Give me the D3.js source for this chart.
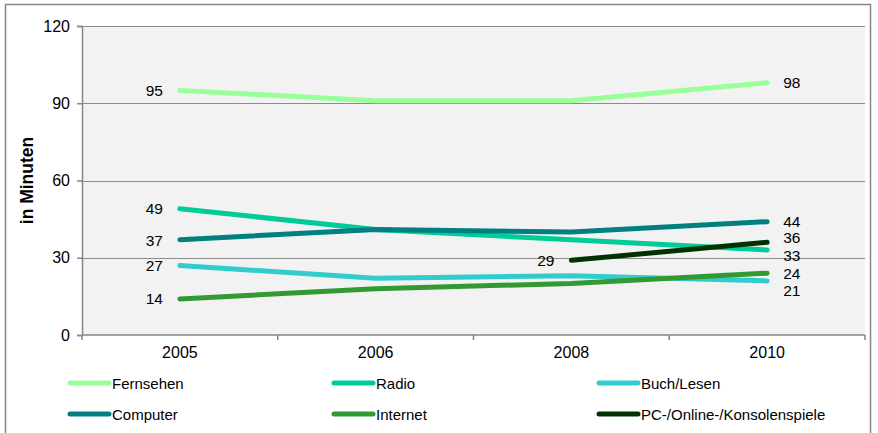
<!DOCTYPE html>
<html>
<head>
<meta charset="utf-8">
<script src="https://cdn.jsdelivr.net/npm/d3@7/dist/d3.min.js"></script>
<style>
  html, body { margin: 0; padding: 0; background: #fff; }
  svg { display: block; font-family: "Liberation Sans", Arial, sans-serif; }
</style>
</head>
<body>
<svg id="chart" width="878" height="433"></svg>
<script>
// Tägliche Nutzungsdauer in Minuten
const years = ["2005", "2006", "2008", "2010"];
const yTicks = [0, 30, 60, 90, 120];

const fernsehen = [95, 91, 91, 98];
const radio     = [49, 41, 37, 33];
const buch      = [27, 22, 23, 21];
const computer  = [37, 41, 40, 44];
const internet  = [14, 18, 20, 24];
const spiele    = [null, null, 29, 36];

const seriesNames = ["Fernsehen", "Radio", "Buch/Lesen", "Computer", "Internet", "PC-/Online-/Konsolenspiele"];
const seriesValues = [fernsehen, radio, buch, computer, internet, spiele];
const seriesColors = ["#99ff99", "#00cc99", "#33cccc", "#008080", "#339933", "#003300"];

// vertical nudges for the end labels so they don't collide
const startNudge = [0, 0, 0, 1, 0, 0];
const endNudge   = [0, 5, 10, 0, 0, -5];

const svg = d3.select("#chart");
const margin = { left: 82, right: 13, top: 26, bottom: 98 };
const W = 878, H = 433;

// outer frame
svg.append("rect")
  .attr("x", 5.5).attr("y", 4.5)
  .attr("width", 865).attr("height", 440)
  .attr("fill", "#fff").attr("stroke", "#868686").attr("stroke-width", 1.5);

const x = d3.scaleBand().domain(years).range([margin.left, W - margin.right]);
const y = d3.scaleLinear().domain([0, 120]).range([H - margin.bottom, margin.top]);

// plot background
svg.append("rect")
  .attr("x", margin.left).attr("y", margin.top)
  .attr("width", W - margin.right - margin.left)
  .attr("height", H - margin.bottom - margin.top)
  .attr("fill", "#f2f2f2");

// grid
svg.append("g").selectAll("line")
  .data(yTicks.filter(d => d > 0))
  .join("line")
  .attr("x1", margin.left).attr("x2", W - margin.right)
  .attr("y1", d => Math.round(y(d)) + 0.5).attr("y2", d => Math.round(y(d)) + 0.5)
  .attr("stroke", "#8c8c8c").attr("stroke-width", 1.2);

// y axis
const yAxis = svg.append("g")
  .attr("transform", `translate(${margin.left},0)`)
  .call(d3.axisLeft(y).tickValues(yTicks).tickSize(5).tickPadding(7));
yAxis.select(".domain").attr("stroke", "#868686").attr("stroke-width", 1.5);
yAxis.selectAll(".tick line").attr("stroke", "#868686").attr("stroke-width", 1.5);
yAxis.selectAll("text").attr("font-size", 16).attr("fill", "#000")
  .attr("font-family", "Liberation Sans, Arial, sans-serif");

// x axis: ticks at band boundaries
const xAxisG = svg.append("g").attr("transform", `translate(0,${y(0)})`);
xAxisG.append("line")
  .attr("x1", margin.left).attr("x2", W - margin.right)
  .attr("stroke", "#868686").attr("stroke-width", 1.5);
const bounds = years.map(d => x(d)).concat([x(years[years.length - 1]) + x.bandwidth()]);
xAxisG.selectAll("line.tk").data(bounds).join("line").attr("class", "tk")
  .attr("x1", d => d).attr("x2", d => d).attr("y1", 0).attr("y2", 5)
  .attr("stroke", "#868686").attr("stroke-width", 1.5);
xAxisG.selectAll("text").data(years).join("text")
  .attr("x", d => x(d) + x.bandwidth() / 2).attr("y", 23)
  .attr("text-anchor", "middle").attr("font-size", 16).text(d => d);

// y axis title
svg.append("text")
  .attr("transform", `translate(33,${(y(0) + y(120)) / 2}) rotate(-90)`)
  .attr("text-anchor", "middle").attr("font-size", 17.5).attr("font-weight", "bold")
  .text("in Minuten");

const cx = d => x(d) + x.bandwidth() / 2;
const line = d3.line()
  .defined(d => d.v != null)
  .x(d => cx(d.year)).y(d => y(d.v));

seriesValues.forEach((vals, i) => {
  const pts = vals.map((v, j) => ({ year: years[j], v }));
  svg.append("path").datum(pts)
    .attr("d", line)
    .attr("fill", "none").attr("stroke", seriesColors[i])
    .attr("stroke-width", 5).attr("stroke-linecap", "round").attr("stroke-linejoin", "round");

  const defined = pts.filter(p => p.v != null);
  const first = defined[0], last = defined[defined.length - 1];
  svg.append("text")
    .attr("x", cx(first.year) - 17).attr("y", y(first.v) + 5.5 + startNudge[i])
    .attr("text-anchor", "end").attr("font-size", 15.5).text(first.v);
  svg.append("text")
    .attr("x", cx(last.year) + 16).attr("y", y(last.v) + 5.5 + endNudge[i])
    .attr("text-anchor", "start").attr("font-size", 15.5).text(last.v);
});

// legend
const legendCols = [68, 332, 597];
const legendRows = [383, 414];
seriesNames.forEach((name, i) => {
  const lx = legendCols[i % 3], ly = legendRows[Math.floor(i / 3)];
  const g = svg.append("g").attr("transform", `translate(${lx},${ly})`);
  g.append("line").attr("x1", 2).attr("x2", 41).attr("y1", 0).attr("y2", 0)
    .attr("stroke", seriesColors[i]).attr("stroke-width", 5).attr("stroke-linecap", "round");
  g.append("text").attr("x", 44).attr("y", 5.5)
    .attr("font-size", 15).text(name);
});
</script>
</body>
</html>
